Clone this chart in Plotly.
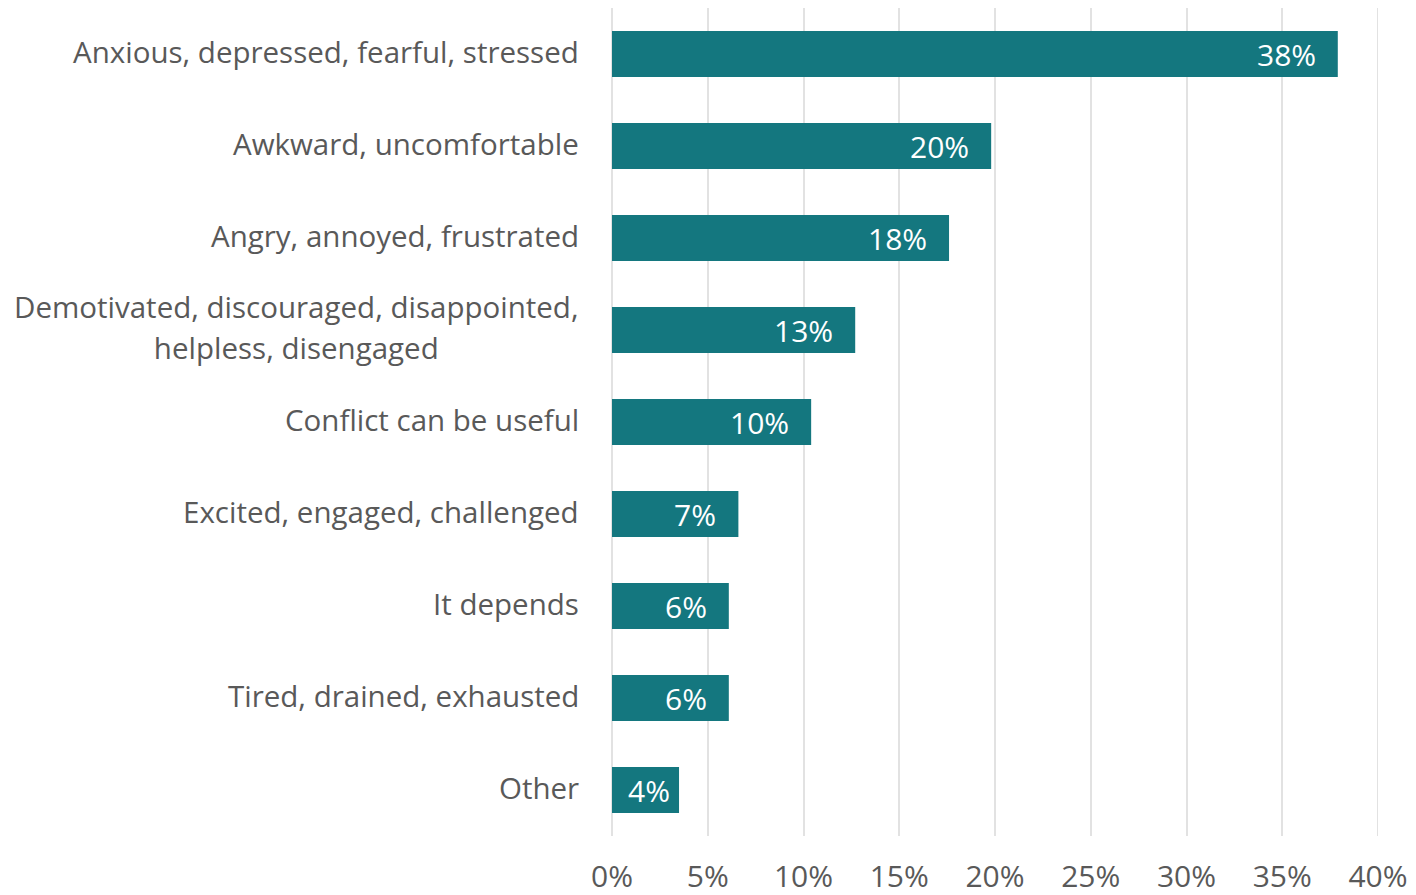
import plotly.graph_objects as go

# Share of respondents per feeling about workplace conflict (top to bottom)
categories = [
    "Anxious, depressed, fearful, stressed",
    "Awkward, uncomfortable",
    "Angry, annoyed, frustrated",
    "Demotivated, discouraged, disappointed,<br>helpless, disengaged",
    "Conflict can be useful",
    "Excited, engaged, challenged",
    "It depends",
    "Tired, drained, exhausted",
    "Other",
]
shares = [0.379, 0.198, 0.176, 0.127, 0.104, 0.066, 0.061, 0.061, 0.035]
x_ticks = [0, 0.05, 0.10, 0.15, 0.20, 0.25, 0.30, 0.35, 0.40]

BAR = "#14777f"
GREY = "#595959"
GRID = "#e2e2e2"
FONT = "Open Sans"
FS_CAT = 29.5
FS_NUM = 30

fig = go.Figure(
    go.Bar(
        x=shares,
        y=categories,
        orientation="h",
        width=0.5,
        marker=dict(color=BAR, line=dict(width=0)),
        hoverinfo="skip",
    )
)

annotations = []
for cat, v in zip(categories, shares):
    # value label just inside the end of each bar
    label = f"{round(v * 100):.0f}%"
    shift = -20 if v > 0.05 else -7
    annotations.append(dict(
        x=v, y=cat, xref="x", yref="y", text=label, showarrow=False,
        xanchor="right", yanchor="middle", xshift=shift, yshift=0,
        font=dict(family=FONT, size=FS_NUM, color="white"),
    ))
    # category label left of the plot area; multi-line labels get
    # wider line spacing via a larger base size with inner spans
    if "<br>" in cat:
        lines = cat.split("<br>")
        text = "<br>".join(
            f"<span style='font-size:{FS_CAT}px'>{ln}</span>" for ln in lines
        )
        base = 31.5
    else:
        text, base = cat, FS_CAT
    annotations.append(dict(
        x=0, y=cat, xref="paper", yref="y", text=text, showarrow=False,
        xanchor="right", yanchor="middle", xshift=-31, yshift=3,
        align="center",
        font=dict(family=FONT, size=base, color=GREY),
    ))

# gridline at the far end of the axis (plotly skips grid at range edges)
shapes = [dict(
    type="line", xref="x", yref="paper",
    x0=x_ticks[-1], x1=x_ticks[-1], y0=0, y1=1,
    line=dict(color=GRID, width=2), layer="below",
)]

fig.update_layout(
    width=1416, height=895,
    margin=dict(l=612, r=38, t=8, b=59),
    paper_bgcolor="white", plot_bgcolor="white",
    showlegend=False,
    bargap=0.5,
    annotations=annotations,
    shapes=shapes,
    font=dict(family=FONT, size=FS_NUM, color=GREY),
    xaxis=dict(
        range=[0, 0.40], tickvals=x_ticks, tickformat=".0%",
        showgrid=True, gridcolor=GRID, gridwidth=2,
        zeroline=True, zerolinecolor=GRID, zerolinewidth=2,
        showline=False, ticks="",
        ticklabelstandoff=20, automargin=False,
        tickfont=dict(family=FONT, size=FS_NUM, color=GREY),
    ),
    yaxis=dict(
        categoryorder="array", categoryarray=categories[::-1],
        showticklabels=False, showgrid=False, zeroline=False,
        showline=False, ticks="", automargin=False,
    ),
)

fig.write_html("out.html")
